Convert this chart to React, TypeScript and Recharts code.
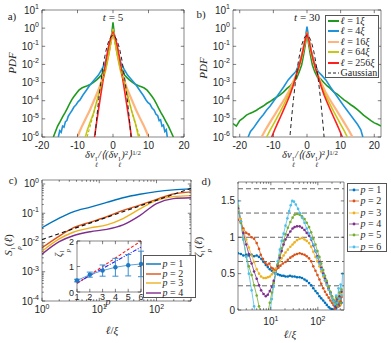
import React from "react";
import { LineChart, Line, XAxis, YAxis, ReferenceArea, ReferenceLine, ErrorBar } from "recharts";

type Pt = [number, number];

// ---- a) longitudinal increment PDFs, t = 5
const a1: Pt[] = [[-16.8,1e-6],[-16.2,2e-6],[-15.6,4e-6],[-14.9,7e-6],[-14.2,1.3e-5],[-13.5,2.2e-5],[-12.8,4e-5],[-12.2,7e-5],[-11.6,1.15e-4],[-11,1.7e-4],[-10.3,2.6e-4],[-9.6,3.8e-4],[-8.8,5e-4],[-8,5.8e-4],[-7.2,6.6e-4],[-6.3,8e-4],[-5.4,1.05e-3],[-4.6,1.4e-3],[-3.8,2e-3],[-3.2,2.7e-3],[-2.6,4.5e-3],[-2.1,8e-3],[-1.7,1.5e-2],[-1.3,3.2e-2],[-0.9,8e-2],[-0.6,0.2],[-0.3,0.6],[0,2.1],[0.3,0.6],[0.6,0.2],[0.9,8e-2],[1.3,3.2e-2],[1.7,1.5e-2],[2.1,8e-3],[2.6,4.5e-3],[3.2,2.7e-3],[3.8,2e-3],[4.6,1.4e-3],[5.4,1.05e-3],[6.3,8e-4],[7.2,6.6e-4],[8,5.8e-4],[8.8,5e-4],[9.6,3.8e-4],[10.3,2.6e-4],[11,1.7e-4],[11.6,1.15e-4],[12.2,7e-5],[12.8,4e-5],[13.5,2.2e-5],[14.2,1.3e-5],[14.9,7e-6],[15.6,4e-6],[16.3,2e-6],[17,1e-6]];
const a4: Pt[] = [[-15.4,1e-6],[-15,2.2e-6],[-14.6,1.8e-6],[-14.2,4e-6],[-13.8,3.5e-6],[-13.4,7e-6],[-13,8e-6],[-12.6,1.4e-5],[-12.1,2e-5],[-11.6,2.8e-5],[-11,4.5e-5],[-10.4,6e-5],[-9.8,9e-5],[-9.3,1.1e-4],[-8.5,2e-4],[-7.5,3.8e-4],[-6.5,7.4e-4],[-5.3,1.4e-3],[-4.1,2.6e-3],[-3.2,5.2e-3],[-2.25,1.15e-2],[-1.5,3.8e-2],[-0.85,0.145],[-0.4,0.4],[0,0.8],[0.4,0.4],[0.85,0.145],[1.5,3.8e-2],[2.25,1.15e-2],[3.2,5.2e-3],[4.1,2.6e-3],[5.3,1.4e-3],[6.5,7.4e-4],[7.5,3.8e-4],[8.5,2e-4],[9.3,1.1e-4],[9.8,8e-5],[10.4,6.5e-5],[11,4e-5],[11.6,3e-5],[12.1,1.8e-5],[12.6,1.5e-5],[13,8e-6],[13.4,9e-6],[13.8,4e-6],[14.2,4.5e-6],[14.6,2e-6],[15,2.5e-6],[15.3,1e-6]];
const a16: Pt[] = [[-10,1e-6],[-9.4,2e-6],[-8.6,4.5e-6],[-7.6,1.1e-5],[-6.5,3.1e-5],[-5.3,1.1e-4],[-4.1,3.9e-4],[-3.2,1.3e-3],[-2.25,4e-3],[-1.6,1.6e-2],[-1,6.3e-2],[-0.5,0.25],[0,0.65],[0.5,0.25],[1,6.3e-2],[1.6,1.6e-2],[2.25,4e-3],[3.2,1.3e-3],[4.1,3.9e-4],[5.3,1.1e-4],[6.5,3.1e-5],[7.6,1.1e-5],[8.6,4.5e-6],[9.4,2e-6],[10,1e-6]];
const a64: Pt[] = [[-7.8,1e-6],[-7.2,2.5e-6],[-6.4,7e-6],[-5.5,2e-5],[-4.6,9e-5],[-3.7,3.9e-4],[-2.8,1.5e-3],[-2,6.3e-3],[-1.3,3e-2],[-0.7,0.15],[0,0.9],[0.7,0.15],[1.3,3e-2],[2,6.3e-3],[2.8,1.5e-3],[3.7,3.9e-4],[4.5,1e-4],[5.3,2.5e-5],[6.2,7e-6],[7.2,1e-6]];
const a64fit: Pt[] = [[-7.3,1e-6],[-6,8e-6],[-4.5,1e-4],[-3,1.2e-3],[-1.8,1e-2],[-0.9,8e-2],[0,0.5],[0.9,8e-2],[1.8,1e-2],[3,1.2e-3],[4.5,1e-4],[6,8e-6],[7.6,1e-6]];
const a256: Pt[] = [[-5.2,1e-6],[-4.7,5e-6],[-4.1,3e-5],[-3.5,1.8e-4],[-2.9,1e-3],[-2.3,6e-3],[-1.8,2.5e-2],[-1.4,0.07],[-1,0.16],[-0.6,0.3],[-0.3,0.42],[0,0.57],[0.3,0.42],[0.6,0.3],[1,0.16],[1.4,0.07],[1.8,2.5e-2],[2.3,6e-3],[2.9,1e-3],[3.5,1.8e-4],[4.1,3e-5],[4.7,5e-6],[5.2,1e-6]];
const gauss: Pt[] = [[-5.2,5.3e-7],[-5,1.5e-6],[-4.5,1.6e-5],[-4,1.34e-4],[-3.5,8.7e-4],[-3,4.4e-3],[-2.5,1.75e-2],[-2,5.4e-2],[-1.5,0.13],[-1,0.242],[-0.5,0.352],[0,0.399],[0.5,0.352],[1,0.242],[1.5,0.13],[2,5.4e-2],[2.5,1.75e-2],[3,4.4e-3],[3.5,8.7e-4],[4,1.34e-4],[4.5,1.6e-5],[5,1.5e-6],[5.2,5.3e-7]];

// ---- b) same at t = 30
const b1: Pt[] = [[-22,5.5e-6],[-21,4e-6],[-20,8e-6],[-19,1.1e-5],[-18,1.6e-5],[-17,2e-5],[-16,2.4e-5],[-15,3e-5],[-14,4e-5],[-13,5.1e-5],[-12,7e-5],[-11,9e-5],[-10,1.2e-4],[-9,1.6e-4],[-8,2.1e-4],[-7,3e-4],[-6,4.6e-4],[-5,6.5e-4],[-4,1.1e-3],[-3.1,1.7e-3],[-2.3,4e-3],[-1.6,9.3e-3],[-1,3.5e-2],[-0.6,9.5e-2],[-0.3,0.22],[0,0.5],[0.3,0.22],[0.6,9.5e-2],[1,3.5e-2],[1.6,9.3e-3],[2.3,4e-3],[3.1,2e-3],[3.9,1.7e-3],[5,1e-3],[6,6.5e-4],[6.9,4.8e-4],[8,3e-4],[9,2.3e-4],[10,1.6e-4],[11,1.1e-4],[11.8,8.9e-5],[13,6e-5],[14,4.5e-5],[15,3.2e-5],[16,2.2e-5],[16.8,1.6e-5],[18,1.1e-5],[19,8e-6],[20,6e-6],[21,5e-6],[22,4e-6]];
const b4: Pt[] = [[-17.5,1e-6],[-16.8,2e-6],[-16,3e-6],[-15,5.6e-6],[-14,1e-5],[-13,1.7e-5],[-12,3.1e-5],[-11,5e-5],[-10,9e-5],[-9,1.66e-4],[-8,3e-4],[-7,5.5e-4],[-5.6,1.4e-3],[-4.4,2.5e-3],[-3.3,4e-3],[-2.3,1.1e-2],[-1.5,3.5e-2],[-0.9,0.12],[-0.4,0.4],[0,1.2],[0.4,0.4],[0.9,0.12],[1.5,3.5e-2],[2.3,1.1e-2],[3.3,4e-3],[4.4,2.5e-3],[5.6,1.4e-3],[7,5.5e-4],[8,3e-4],[9,1.66e-4],[10,9e-5],[11,5e-5],[12,2.8e-5],[13,1.6e-5],[14,9e-6],[15,5e-6],[16,2.5e-6],[16.6,1e-6]];
const b16: Pt[] = [[-13.5,1e-6],[-12.5,2.2e-6],[-11.5,4.5e-6],[-10.5,9e-6],[-9.5,1.8e-5],[-8.5,3.6e-5],[-7.5,7e-5],[-6.5,1.4e-4],[-5.5,3e-4],[-4.4,8e-4],[-3.3,2.5e-3],[-2.5,6.5e-3],[-1.8,1.8e-2],[-1.2,5.5e-2],[-0.6,0.2],[0,0.55],[0.6,0.2],[1.2,5.5e-2],[1.8,1.8e-2],[2.5,6.5e-3],[3.3,2.5e-3],[4.4,8e-4],[5.5,3e-4],[6.5,1.4e-4],[7.5,7e-5],[8.5,3.6e-5],[9.5,1.8e-5],[10.5,9e-6],[11.5,4.5e-6],[12.5,2.2e-6],[13.5,1e-6]];
const b64: Pt[] = [[-12,1e-6],[-11,2.3e-6],[-10,5e-6],[-9,1.1e-5],[-8,2.4e-5],[-7,5.5e-5],[-6,1.3e-4],[-5,3.2e-4],[-4.1,8e-4],[-3.3,2.4e-3],[-2.5,6.5e-3],[-1.8,1.8e-2],[-1.2,5.5e-2],[-0.6,0.2],[0,0.5],[0.6,0.2],[1.2,5.5e-2],[1.8,1.8e-2],[2.5,6.5e-3],[3.3,2.4e-3],[4.1,8e-4],[5,3.2e-4],[6,1.3e-4],[7,5.5e-5],[8,2.4e-5],[9,1.1e-5],[10,5e-6],[11,2.3e-6],[12,1e-6]];
const b256: Pt[] = [[-10.5,1e-6],[-9.6,2.5e-6],[-8.7,6e-6],[-7.8,1.4e-5],[-6.9,3.3e-5],[-6,8e-5],[-5.1,2e-4],[-4.2,6e-4],[-3.3,2.2e-3],[-2.5,6.5e-3],[-1.8,1.9e-2],[-1.2,5.8e-2],[-0.6,0.2],[0,0.47],[0.6,0.2],[1.2,5.8e-2],[1.8,1.9e-2],[2.5,6.5e-3],[3.3,2.2e-3],[4.2,6e-4],[5.1,2e-4],[6,8e-5],[6.9,3.3e-5],[7.8,1.4e-5],[8.7,6e-6],[9.6,2.5e-6],[10.5,1e-6]];

const PDF_NAMES = ["ℓ = 1ξ", "ℓ = 4ξ", "ℓ = 16ξ", "ℓ = 64ξ", "ℓ = 256ξ"];
const PDF_COLORS = ["#1f9a1f", "#1e93d9", "#ffb47e", "#c8c814", "#ff1f1f"];
const pdfXTicks = [-20, -10, 0, 10, 20];
const pdfYTicks = [1e-6, 1e-5, 1e-4, 1e-3, 1e-2, 1e-1, 1, 10];

// ---- c) structure functions S_p(ℓ)
const ellC = [1, 2, 3.5, 7, 13.5, 26, 51, 100, 197, 400];
const s1 = [0.032, 0.068, 0.112, 0.162, 0.234, 0.34, 0.447, 0.55, 0.63, 0.68];
const s2 = [0.0066, 0.0166, 0.0316, 0.05, 0.076, 0.126, 0.19, 0.3, 0.457, 0.537];
const s3 = [0.005, 0.0132, 0.0224, 0.0316, 0.04, 0.066, 0.141, 0.275, 0.37, 0.4];
const s4 = [0.004, 0.0107, 0.017, 0.0234, 0.028, 0.04, 0.083, 0.214, 0.316, 0.339];
const fitEll = [1, 400];
const fitS = [0.0126, 0.71];
const C_COLORS = ["#0072bd", "#d95319", "#edb120", "#7e2f8e"];

// inset: scaling exponents
const pOrders = [1, 2, 3, 4, 5, 6];
const zeta = [0.45, 0.68, 0.84, 0.97, 1.05, 1.1];
const zetaErr = [0.05, 0.1, 0.22, 0.35, 0.42, 0.5];
const k41 = [0.333, 0.667, 1, 1.333, 1.667, 2];
const zetaFit = [0.36, 0.64, 0.92, 1.2, 1.48, 1.76];

// ---- d) local slopes ζ_p(ℓ)
const d1: Pt[] = [[2,0.78],[2.3,0.77],[2.6,0.75],[3,0.76],[3.4,0.75],[3.9,0.76],[4.4,0.74],[5,0.75],[5.6,0.73],[6.3,0.7],[7,0.66],[7.8,0.62],[8.6,0.59],[9.5,0.56],[10.5,0.54],[11.6,0.52],[12.7,0.5],[14,0.49],[15.5,0.48],[17,0.47],[18.7,0.47],[20.5,0.46],[23,0.46],[25.5,0.47],[28.5,0.46],[32,0.46],[36,0.45],[41,0.45],[46,0.44],[52,0.42],[58,0.4],[65,0.37],[72,0.34],[80,0.3],[89,0.26],[98,0.23],[108,0.19],[118,0.16],[130,0.13],[142,0.1],[155,0.07],[170,0.04],[185,0.02],[200,0.01],[215,0],[230,0.06],[245,0.02],[260,0.12],[275,0.05],[290,0.15],[305,0.08],[320,0.1]];
const d2: Pt[] = [[2,1.24],[2.3,1.2],[2.6,1.12],[3,1.06],[3.4,1.04],[3.9,1],[4.4,0.98],[5,0.92],[5.6,0.84],[6.1,0.76],[6.8,0.7],[7.6,0.65],[8.4,0.62],[9.3,0.64],[10.2,0.58],[11,0.57],[12,0.55],[13,0.56],[14.5,0.58],[16,0.61],[18,0.64],[20.5,0.66],[23,0.69],[26,0.72],[29,0.74],[32,0.76],[36,0.77],[41,0.78],[46,0.77],[52,0.76],[58,0.74],[65,0.71],[72,0.67],[80,0.6],[89,0.54],[98,0.48],[108,0.42],[118,0.36],[130,0.3],[142,0.25],[155,0.21],[170,0.17],[185,0.13],[200,0.1],[215,0.07],[230,0.02],[245,0.1],[260,0.05],[275,0.14],[290,0.06],[305,0.12],[320,0.18]];
const d3: Pt[] = [[2,1.38],[2.3,1.25],[2.6,1.1],[3,0.97],[3.4,0.86],[3.9,0.75],[4.4,0.66],[5,0.56],[5.6,0.5],[6.2,0.46],[7,0.44],[7.8,0.44],[8.6,0.45],[9.5,0.46],[10.5,0.49],[11.5,0.53],[12.7,0.57],[14,0.62],[15.5,0.67],[17,0.71],[18.7,0.75],[20.5,0.79],[23,0.83],[26,0.87],[29,0.9],[32,0.93],[36,0.96],[41,0.98],[46,0.99],[52,0.97],[58,0.95],[65,0.92],[72,0.87],[80,0.8],[89,0.73],[98,0.67],[108,0.6],[118,0.53],[130,0.46],[142,0.4],[155,0.34],[170,0.28],[185,0.22],[200,0.17],[215,0.12],[230,0.09],[245,0.16],[260,0.05],[275,0.13],[290,0.2],[305,0.08],[320,0.22]];
const d4: Pt[] = [[2,1.4],[2.3,1.22],[2.6,1.06],[3,0.9],[3.4,0.77],[3.9,0.64],[4.4,0.53],[5,0.43],[5.6,0.34],[6.2,0.27],[7,0.22],[7.8,0.19],[8.6,0.21],[9.5,0.26],[10.5,0.32],[11.5,0.4],[12.7,0.5],[14,0.61],[15.5,0.72],[17,0.81],[18.7,0.9],[20.5,0.97],[23,1.03],[26,1.08],[29,1.12],[32,1.14],[36,1.15],[41,1.15],[46,1.13],[52,1.1],[58,1.06],[65,1.02],[72,0.97],[80,0.89],[89,0.81],[98,0.74],[108,0.66],[118,0.58],[130,0.5],[142,0.43],[155,0.37],[170,0.3],[185,0.24],[200,0.18],[215,0.13],[230,0.1],[245,0.04],[260,0.15],[275,0.07],[290,0.19],[305,0.1],[320,0.25]];
const d5: Pt[] = [[2,1.43],[2.3,1.2],[2.6,0.97],[3,0.74],[3.4,0.6],[3.9,0.48],[4.4,0.34],[5,0.2],[5.6,0.05],[6.2,-0.1],[7,-0.2],[7.8,-0.15],[8.6,-0.05],[9.5,0.1],[10.5,0.24],[11.5,0.37],[12.7,0.5],[14,0.63],[15.5,0.75],[17,0.85],[18.7,0.95],[20.5,1.04],[23,1.13],[26,1.21],[29,1.27],[32,1.31],[36,1.32],[41,1.31],[46,1.29],[52,1.25],[58,1.2],[65,1.14],[72,1.07],[80,0.98],[89,0.9],[98,0.81],[108,0.73],[118,0.64],[130,0.55],[142,0.47],[155,0.4],[170,0.32],[185,0.25],[200,0.19],[215,0.14],[230,0.1],[245,0.18],[260,0.06],[275,0.16],[290,0.24],[305,0.1],[320,0.28]];
const d6: Pt[] = [[2,1.5],[2.3,1.22],[2.6,0.97],[3,0.73],[3.4,0.5],[3.9,0.27],[4.4,0.05],[5,-0.2],[5.6,-0.4],[6.5,-0.5],[7.5,-0.45],[8.6,-0.25],[9.5,-0.05],[10.5,0.15],[11.5,0.32],[12.7,0.5],[14,0.67],[15.5,0.83],[17,0.95],[18.7,1.05],[20.5,1.16],[22.5,1.26],[24.5,1.36],[26.5,1.44],[28.5,1.5],[31,1.49],[34,1.45],[38,1.39],[42,1.33],[46,1.27],[52,1.2],[58,1.12],[65,1.05],[72,0.98],[80,0.9],[89,0.81],[98,0.72],[108,0.64],[118,0.56],[130,0.48],[142,0.41],[155,0.35],[170,0.28],[185,0.22],[200,0.16],[215,0.12],[230,0.08],[245,0.2],[260,0.1],[275,0.3],[290,0.15],[305,0.35],[320,0.2],[335,0.5]];
const D_COLORS = ["#0072bd", "#d95319", "#edb120", "#7e2f8e", "#77ac30", "#4dbeee"];
const dGuides = [0.333, 0.667, 1, 1.333, 1.667];
const dYTicks = [0, 0.5, 1, 1.5];

const INK = "#262626";
const SANS = '"Liberation Sans", Arial, sans-serif';
const SERIF = '"Liberation Serif", "Times New Roman", serif';

type Box = { l: number; r: number; t: number; b: number };

const rows = (pts: Pt[]) => pts.map(([x, y]) => ({ x, y }));
const zip = (xs: number[], ys: number[]) => xs.map((x, i) => ({ x, y: ys[i] }));

const logTicks = (lo: number, hi: number) => {
  const out: number[] = [];
  for (let e = Math.floor(Math.log10(lo)); e <= Math.ceil(Math.log10(hi)); e++)
    for (let m = 1; m < 10; m++) {
      const v = m * Math.pow(10, e);
      if (v >= lo * 0.9999 && v <= hi * 1.0001) out.push(v);
    }
  return out;
};
const isDecade = (v: number) => Math.abs(Math.log10(v) - Math.round(Math.log10(v))) < 1e-6;
const always = () => true;
const pow10 = (v: number) => [
  <tspan key="b">10</tspan>,
  <tspan key="e" dy={-4.5} fontSize={7}>{Math.round(Math.log10(v))}</tspan>,
];
const plain = (v: number) => String(v);

function xTick(box: Box, fmt: (v: number) => React.ReactNode, major: (v: number) => boolean, labelY: number, fs = 10) {
  return (props: any) => {
    const x = props.x as number;
    const v = props.payload.value as number;
    const m = major(v);
    const len = m ? 3.2 : 1.8;
    return (
      <g>
        <line x1={x} x2={x} y1={box.b} y2={box.b - len} stroke={INK} strokeWidth={0.6} />
        <line x1={x} x2={x} y1={box.t} y2={box.t + len} stroke={INK} strokeWidth={0.6} />
        {m && (
          <text x={x} y={labelY} textAnchor="middle" fontFamily={SANS} fontSize={fs} fill={INK}>
            {fmt(v)}
          </text>
        )}
      </g>
    );
  };
}

function yTick(box: Box, fmt: (v: number) => React.ReactNode, major: (v: number) => boolean, fs = 10) {
  return (props: any) => {
    const y = props.y as number;
    const v = props.payload.value as number;
    const m = major(v);
    const len = m ? 3.2 : 1.8;
    return (
      <g>
        <line x1={box.l} x2={box.l + len} y1={y} y2={y} stroke={INK} strokeWidth={0.6} />
        <line x1={box.r} x2={box.r - len} y1={y} y2={y} stroke={INK} strokeWidth={0.6} />
        {m && (
          <text x={box.l - 3} y={y + 3.5} textAnchor="end" fontFamily={SANS} fontSize={fs} fill={INK}>
            {fmt(v)}
          </text>
        )}
      </g>
    );
  };
}

function PdfChart({ left, width, right, yW, xMax, curves, fit }: { left: number; width: number; right: number; yW: number; xMax: number; curves: Pt[][]; fit?: Pt[] }) {
  const H = 165, top = 10, xH = 28;
  const box = { l: yW, r: width - right, t: top, b: H - xH };
  return (
    <div style={{ position: "absolute", left, top: 0 }}>
      <LineChart width={width} height={H} margin={{ top, right, bottom: 0, left: 0 }}>
        <XAxis dataKey="x" type="number" domain={[-xMax, xMax]} ticks={pdfXTicks} interval={0} height={xH}
          axisLine={false} tickLine={false} allowDataOverflow tick={xTick(box, plain, always, 149)} />
        <YAxis type="number" scale="log" domain={[1e-6, 10]} ticks={pdfYTicks} interval={0} width={yW}
          axisLine={false} tickLine={false} allowDataOverflow tick={yTick(box, pow10, always)} />
        {curves.map((c, i) => (
          <Line key={PDF_NAMES[i]} data={rows(c)} dataKey="y" stroke={PDF_COLORS[i]} strokeWidth={i === 2 ? 2.2 : 1.6}
            dot={false} isAnimationActive={false} />
        ))}
        {fit && (
          <Line data={rows(fit)} dataKey="y" stroke="#b5b514" strokeWidth={1.1} strokeDasharray="3 2" dot={false} isAnimationActive={false} />
        )}
        <Line data={rows(gauss)} dataKey="y" stroke="#222" strokeWidth={1} strokeDasharray="4 3" dot={false} isAnimationActive={false} />
        <ReferenceArea x1={-xMax} x2={xMax} y1={1e-6} y2={10} fill="none" stroke="#555" strokeWidth={0.7} ifOverflow="visible" />
      </LineChart>
    </div>
  );
}

function StructChart() {
  const W = 195, H = 178, top = 15, right = 4, yW = 42, xH = 42;
  const box = { l: yW, r: W - right, t: top, b: H - xH };
  const series = [s1, s2, s3, s4];
  return (
    <div style={{ position: "absolute", left: 0, top: 165 }}>
      <LineChart width={W} height={H} margin={{ top, right, bottom: 0, left: 0 }}>
        <XAxis dataKey="x" type="number" scale="log" domain={[1, 400]} ticks={logTicks(1, 400)} interval={0} height={xH}
          axisLine={false} tickLine={false} allowDataOverflow tick={xTick(box, pow10, isDecade, 148)} />
        <YAxis type="number" scale="log" domain={[1e-4, 1.37]} ticks={logTicks(1e-4, 1.37)} interval={0} width={yW}
          axisLine={false} tickLine={false} allowDataOverflow tick={yTick(box, pow10, isDecade)} />
        {series.map((s, i) => (
          <Line key={i} data={zip(ellC, s)} dataKey="y" type="monotone" stroke={C_COLORS[i]} strokeWidth={1.4}
            dot={false} isAnimationActive={false} />
        ))}
        <Line data={zip(fitEll, fitS)} dataKey="y" stroke="#111" strokeWidth={1.2} strokeDasharray="4 3" dot={false} isAnimationActive={false} />
        <ReferenceArea x1={1} x2={400} y1={1e-4} y2={1.37} fill="none" stroke="#555" strokeWidth={0.7} ifOverflow="visible" />
      </LineChart>
    </div>
  );
}

function InsetChart() {
  const W = 90, H = 72, top = 5, right = 4, yW = 22, xH = 16;
  const box = { l: yW, r: W - right, t: top, b: H - xH };
  const data = pOrders.map((p, i) => ({ p, z: zeta[i], e: zetaErr[i], k: k41[i], f: zetaFit[i] }));
  return (
    <div style={{ position: "absolute", left: 55, top: 236 }}>
      <LineChart width={W} height={H} data={data} margin={{ top, right, bottom: 0, left: 0 }}>
        <XAxis dataKey="p" type="number" domain={[1, 6]} ticks={pOrders} interval={0} height={xH}
          axisLine={false} tickLine={false} tick={xTick(box, plain, always, 64, 9)} />
        <YAxis type="number" domain={[0, 2]} ticks={[0, 1, 2]} interval={0} width={yW}
          axisLine={false} tickLine={false} tick={yTick(box, plain, always, 9)} />
        <Line dataKey="k" stroke="#ff1a1a" strokeWidth={1.1} strokeDasharray="3 2" dot={false} isAnimationActive={false} />
        <Line dataKey="f" stroke="#2020ff" strokeWidth={1.1} strokeDasharray="4 1.5 1 1.5" dot={false} isAnimationActive={false} />
        <Line dataKey="z" stroke="#5aa3dc" strokeWidth={1} dot={{ r: 2.2, fill: "#1f78c1", stroke: "#1f78c1", strokeWidth: 0 }} isAnimationActive={false}>
          <ErrorBar dataKey="e" direction="y" width={3} stroke="#3b8dd0" strokeWidth={1} />
        </Line>
        <ReferenceArea x1={1} x2={6} y1={0} y2={2} fill="none" stroke="#555" strokeWidth={0.7} ifOverflow="visible" />
      </LineChart>
    </div>
  );
}

function SlopeChart() {
  const W = 150, H = 175, top = 17, right = 2, yW = 42, xH = 30;
  const box = { l: yW, r: W - right, t: top, b: H - xH };
  const series = [d1, d2, d3, d4, d5, d6];
  return (
    <div style={{ position: "absolute", left: 196, top: 165 }}>
      <LineChart width={W} height={H} margin={{ top, right, bottom: 0, left: 0 }}>
        <XAxis dataKey="x" type="number" scale="log" domain={[2, 360]} ticks={logTicks(2, 360)} interval={0} height={xH}
          axisLine={false} tickLine={false} allowDataOverflow tick={xTick(box, pow10, isDecade, 160)} />
        <YAxis type="number" domain={[0, 1.76]} ticks={dYTicks} interval={0} width={yW}
          axisLine={false} tickLine={false} allowDataOverflow tick={yTick(box, plain, always)} />
        {dGuides.map((g) => (
          <ReferenceLine key={g} y={g} stroke="#555" strokeWidth={0.9} strokeDasharray="5 3" />
        ))}
        {series.map((s, i) => (
          <Line key={i} data={rows(s)} dataKey="y" stroke={D_COLORS[i]} strokeWidth={0.8}
            dot={{ r: 1.3, fill: D_COLORS[i], stroke: D_COLORS[i], strokeWidth: 0 }} isAnimationActive={false} />
        ))}
        <ReferenceArea x1={2} x2={360} y1={0} y2={1.76} fill="none" stroke="#555" strokeWidth={0.7} ifOverflow="visible" />
      </LineChart>
    </div>
  );
}

const T = ({ x, y, children, size = 11, rot = false, italic = false }: { x: number; y: number; children: React.ReactNode; size?: number; rot?: boolean; italic?: boolean }) => (
  <div style={{
    position: "absolute", left: x, top: y, transform: `translate(-50%,-50%)${rot ? " rotate(-90deg)" : ""}`,
    whiteSpace: "nowrap", fontFamily: SERIF, fontSize: size, lineHeight: 1, color: INK, fontStyle: italic ? "italic" : "normal",
  }}>{children}</div>
);

const Stack = ({ sup, sub }: { sup: React.ReactNode; sub: React.ReactNode }) => (
  <span style={{ display: "inline-flex", flexDirection: "column", verticalAlign: "-0.35em", fontSize: "0.65em", lineHeight: 0.85, marginLeft: 0.5 }}>
    <span style={{ fontStyle: "normal" }}>{sup}</span>
    <span>{sub}</span>
  </span>
);
const Sup = ({ children }: { children: React.ReactNode }) => (
  <span style={{ fontSize: "0.65em", verticalAlign: "0.5em", fontStyle: "normal" }}>{children}</span>
);

const IncLabel = () => (
  <span style={{ fontStyle: "italic" }}>
    δv<Stack sup="l" sub="ℓ" />/⟨(δv<Stack sup="l" sub="ℓ" />)<Sup>2</Sup>⟩<Sup>1/2</Sup>
  </span>
);

function LegendBox({ left, top, width, height, children }: { left: number; top: number; width: number; height: number; children: React.ReactNode }) {
  return (
    <div style={{ position: "absolute", left, top, width, height, boxSizing: "border-box", border: "0.8px solid #555", background: "#fff" }}>
      {children}
    </div>
  );
}

function LegendRow({ y, color, dash, w, dotted, label, x0 = 2, lineW = 11, size = 10 }: { y: number; color: string; dash?: string; w: number; dotted?: boolean; label: React.ReactNode; x0?: number; lineW?: number; size?: number }) {
  return (
    <div style={{ position: "absolute", left: x0, top: y - 6, height: 12, display: "flex", alignItems: "center", whiteSpace: "nowrap" }}>
      <svg width={lineW} height={12} style={{ display: "block" }}>
        <line x1={0} x2={lineW} y1={6} y2={6} stroke={color} strokeWidth={w} strokeDasharray={dash} />
        {dotted && <circle cx={lineW / 2} cy={6} r={1.4} fill={color} />}
      </svg>
      <span style={{ fontFamily: SERIF, fontSize: size, color: INK, marginLeft: 1.5, lineHeight: 1 }}>{label}</span>
    </div>
  );
}

const ellLabel = (name: string) => {
  const m = name.replace("ℓ = ", "");
  return <><i>ℓ</i> = {m.replace("ξ", "")}<i>ξ</i></>;
};

export default function App() {
  return (
    <div style={{ position: "absolute", left: 0, top: 0, width: 391, height: 343, background: "#fff", overflow: "hidden" }}>
      <PdfChart left={0} width={198} right={14} yW={42} xMax={20} curves={[a1, a4, a16, a64, a256]} fit={a64fit} />
      <PdfChart left={190} width={200} right={9} yW={43} xMax={22} curves={[b1, b4, b16, b64, b256]} />
      <StructChart />
      <div style={{ position: "absolute", left: 77, top: 241, width: 64, height: 51, background: "#fff" }} />
      <InsetChart />
      <SlopeChart />

      <T x={12} y={16}>a)</T>
      <T x={201} y={14}>b)</T>
      <T x={13} y={180}>c)</T>
      <T x={206} y={181}>d)</T>
      <T x={113} y={17}><i>t</i> = 5</T>
      <T x={307} y={17}><i>t</i> = 30</T>
      <T x={12} y={63} rot italic>PDF</T>
      <T x={203} y={68} rot italic>PDF</T>
      <T x={113} y={159} size={10.5}><IncLabel /></T>
      <T x={310} y={159} size={10.5}><IncLabel /></T>
      <T x={12} y={245} rot><i>S</i><Stack sup="l" sub={<i>p</i>} />(<i>ℓ</i>)</T>
      <T x={112} y={330}><i>ℓ</i>/<i>ξ</i></T>
      <T x={62} y={253} rot size={10}><i>ζ</i><Stack sup="l" sub={<i>p</i>} /></T>
      <T x={108} y={302} size={10} italic>p</T>
      <T x={202} y={247} rot><i>ζ</i><Stack sup="l" sub={<i>p</i>} />(<i>ℓ</i>)</T>
      <T x={290} y={334}><i>ℓ</i>/<i>ξ</i></T>

      <LegendBox left={325} top={15} width={54} height={63}>
        {PDF_NAMES.map((n, i) => (
          <LegendRow key={n} y={4.5 + i * 10.5} color={PDF_COLORS[i]} w={2} label={ellLabel(n)} />
        ))}
        <LegendRow y={4.5 + 5 * 10.5} color="#222" w={1} dash="3 2" label="Gaussian" />
      </LegendBox>

      <LegendBox left={143} top={255} width={53} height={43}>
        {C_COLORS.map((c, i) => (
          <LegendRow key={c} y={8 + i * 9.5} color={c} w={1.4} lineW={15} label={<><i>p</i> = {pOrders[i]}</>} />
        ))}
      </LegendBox>

      <LegendBox left={347} top={183} width={40} height={69}>
        {D_COLORS.map((c, i) => (
          <LegendRow key={c} y={6 + i * 11.3} color={c} w={0.8} dotted lineW={10} x0={1} label={<><i>p</i> = {pOrders[i]}</>} />
        ))}
      </LegendBox>
    </div>
  );
}
